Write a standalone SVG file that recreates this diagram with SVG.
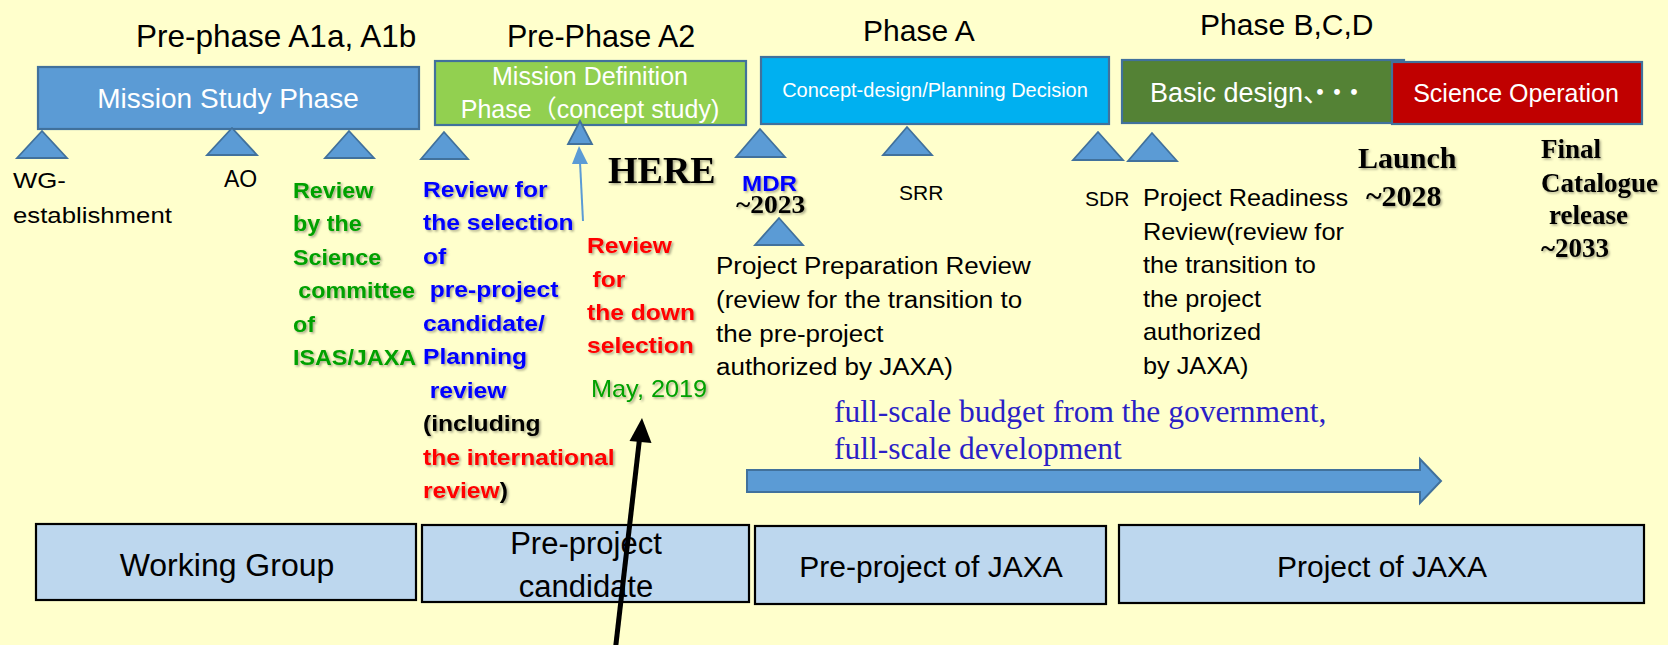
<svg xmlns="http://www.w3.org/2000/svg" width="1668" height="645" viewBox="0 0 1668 645">
  <defs>
    <filter id="shadow" x="-10%" y="-20%" width="130%" height="150%">
      <feDropShadow dx="1.5" dy="1.5" stdDeviation="1" flood-color="#000" flood-opacity="0.35"/>
    </filter>
    <style>
      text { font-family: "Liberation Sans", Arial, "Noto Sans CJK JP", sans-serif; }
      .serif { font-family: "Liberation Serif", "Times New Roman", serif; }
      .tri { fill: #5B9BD5; stroke: #41719C; stroke-width: 1.8; stroke-linejoin: miter; }
      .phase { stroke: #41719C; stroke-width: 2.2; }
      .org { fill: #BDD7EE; stroke: #000; stroke-width: 2.2; }
      .title { font-size: 31px; fill: #000; }
      .lbl { font-size: 23px; fill: #000; }
      .bold { font-weight: bold; font-size: 22px; }
      .sh { filter: url(#shadow); }
      .white { fill: #fff; }
      .green { fill: #00A000; }
      .blue { fill: #0000FF; }
      .red { fill: #FF0000; }
      .black { fill: #000; }
      .orgtxt { font-size: 31px; fill: #000; text-anchor: middle; }
    </style>
  </defs>

  <!-- background -->
  <rect x="0" y="0" width="1668" height="645" fill="#FFFFCC"/>

  <!-- phase bars -->
  <g id="pre-phase-a1">
    <text class="title" x="136" y="47" style="font-size:31.5px">Pre-phase A1a, A1b</text>
    <rect x="38" y="67" width="381" height="62" fill="#5B9BD5" class="phase"/>
    <text class="white" x="228" y="108" font-size="28" text-anchor="middle">Mission Study Phase</text>
  </g>

  <g id="pre-phase-a2">
    <text class="title" x="507" y="47" style="font-size:30.5px">Pre-Phase A2</text>
    <rect x="435" y="61" width="311" height="64" fill="#92D050" class="phase"/>
    <text class="white" x="590" y="85" font-size="25" text-anchor="middle">Mission Definition</text>
    <text class="white" x="590" y="118" font-size="25" text-anchor="middle">Phase（concept study)</text>
  </g>

  <g id="phase-a">
    <text class="title" x="863" y="41" style="font-size:30px">Phase A</text>
    <rect x="761" y="57" width="348" height="67" fill="#00B0F0" class="phase"/>
    <text class="white" x="935" y="97" font-size="20" text-anchor="middle">Concept-design/Planning Decision</text>
  </g>

  <g id="phase-bcd">
    <text class="title" x="1200" y="35" style="font-size:30px">Phase B,C,D</text>
    <rect x="1122" y="60" width="282" height="63" fill="#548235" class="phase"/>
    <text class="white" x="1150" y="102" font-size="27">Basic design<tspan style="letter-spacing:-10px">、・・・</tspan></text>
  </g>

  <g id="science-operation">
    <rect x="1392" y="62" width="250" height="62" fill="#C00000" class="phase"/>
    <text class="white" x="1516" y="102" font-size="25" text-anchor="middle">Science Operation</text>
  </g>

  <!-- milestones -->
  <g id="ms-wg">
    <polygon class="tri" points="42,131 17,158 67,158"/>
    <g transform="translate(13 0) scale(1.12 1)">
      <text class="lbl" x="0" y="188">WG-</text>
      <text class="lbl" x="0" y="223">establishment</text>
    </g>
  </g>

  <g id="ms-ao">
    <polygon class="tri" points="232,128 207,155 257,155"/>
    <text class="lbl" x="224" y="187">AO</text>
  </g>

  <g id="ms-science-committee">
    <polygon class="tri" points="349,131 325,158 374,158"/>
    <g class="sh" transform="translate(293 0) scale(1.06 1)">
      <text class="bold green" x="0" y="198">Review</text>
      <text class="bold green" x="0" y="231.5">by the</text>
      <text class="bold green" x="0" y="265">Science</text>
      <text class="bold green" x="5" y="298.5">committee</text>
      <text class="bold green" x="0" y="332">of</text>
      <text class="bold green" x="0" y="365.5">ISAS/JAXA</text>
    </g>
  </g>

  <g id="ms-pre-project-selection">
    <polygon class="tri" points="444,132 421,159 468,159"/>
    <g class="sh" transform="translate(423 0) scale(1.12 1)">
      <text class="bold blue" x="0" y="197">Review for</text>
      <text class="bold blue" x="0" y="230.5">the selection</text>
      <text class="bold blue" x="0" y="264">of</text>
      <text class="bold blue" x="6" y="297.5">pre-project</text>
      <text class="bold blue" x="0" y="331">candidate/</text>
      <text class="bold blue" x="0" y="364.5">Planning</text>
      <text class="bold blue" x="6" y="398">review</text>
      <text class="bold black" x="0" y="431.5">(including</text>
      <text class="bold red" x="0" y="465">the international</text>
      <text class="bold red" x="0" y="498.5">review<tspan class="black">)</tspan></text>
    </g>
  </g>

  <g id="ms-down-selection">
    <polygon class="tri" points="580,121 568,144 592,144"/>
    <g class="sh" transform="translate(587 0) scale(1.12 1)">
      <text class="bold red" x="0" y="253">Review</text>
      <text class="bold red" x="5" y="287">for</text>
      <text class="bold red" x="0" y="320">the down</text>
      <text class="bold red" x="0" y="353">selection</text>
    </g>
    <g class="sh" transform="translate(591 0) scale(1.1 1)">
      <text class="green" x="0" y="397" font-size="23">May, 2019</text>
    </g>
    <text class="serif sh" x="608" y="183" font-size="38" font-weight="bold" fill="#000">HERE</text>
  </g>

  <g id="ms-mdr">
    <polygon class="tri" points="760,129 736,157 785,157"/>
    <g class="sh" transform="translate(742 0) scale(1.1 1)">
      <text class="bold blue" x="0" y="191">MDR</text>
    </g>
    <g class="sh" transform="translate(736 0) scale(1.1 1)">
      <text class="serif" x="0" y="213" font-size="25" font-weight="bold" fill="#000">~2023</text>
    </g>
  </g>

  <g id="ms-ppr">
    <polygon class="tri" points="779,218 755,245 803,245"/>
    <g transform="translate(716 0) scale(1.13 1)">
      <text class="lbl" x="0" y="274">Project Preparation Review</text>
      <text class="lbl" x="0" y="308">(review for the transition to</text>
      <text class="lbl" x="0" y="342">the pre-project</text>
      <text class="lbl" x="0" y="375">authorized by JAXA)</text>
    </g>
  </g>

  <g id="ms-srr">
    <polygon class="tri" points="907,127 883,155 932,155"/>
    <text class="lbl" x="899" y="200" style="font-size:21px">SRR</text>
  </g>

  <g id="ms-sdr">
    <polygon class="tri" points="1098,132 1073,160 1123,160"/>
    <text class="lbl" x="1085" y="206" style="font-size:21px">SDR</text>
  </g>

  <g id="ms-prr">
    <polygon class="tri" points="1152,133 1128,161 1177,161"/>
    <g transform="translate(1143 0) scale(1.1 1)">
      <text class="lbl" x="0" y="206">Project Readiness</text>
      <text class="lbl" x="0" y="239.6">Review(review for</text>
      <text class="lbl" x="0" y="273.2">the transition to</text>
      <text class="lbl" x="0" y="306.8">the project</text>
      <text class="lbl" x="0" y="340.4">authorized</text>
      <text class="lbl" x="0" y="374">by JAXA)</text>
    </g>
  </g>

  <g id="ms-launch" class="sh">
    <text class="serif" x="1358" y="168" font-size="30" font-weight="bold" fill="#000">Launch</text>
    <text class="serif" x="1366" y="206" font-size="30" font-weight="bold" fill="#000">~2028</text>
  </g>

  <g id="ms-final-catalogue" class="sh">
    <text class="serif" x="1541" y="158" font-size="27" font-weight="bold" fill="#000">Final</text>
    <text class="serif" x="1541" y="192" font-size="27" font-weight="bold" fill="#000">Catalogue</text>
    <text class="serif" x="1549" y="224" font-size="27" font-weight="bold" fill="#000">release</text>
    <text class="serif" x="1541" y="257" font-size="27" font-weight="bold" fill="#000">~2033</text>
  </g>

  <!-- budget / development span -->
  <g id="full-scale-development">
    <text class="serif" x="834" y="422" font-size="31.5" fill="#2B1FC6">full-scale budget from the government,</text>
    <text class="serif" x="834" y="459" font-size="31.5" fill="#2B1FC6">full-scale development</text>
    <polygon points="747,470 1420,470 1420,459 1441,481 1420,503 1420,492 747,492" fill="#5B9BD5" stroke="#41719C" stroke-width="2"/>
  </g>

  <!-- organisation stages -->
  <g id="org-working-group">
    <rect class="org" x="36" y="524" width="380" height="76"/>
    <text class="orgtxt" x="227" y="576" style="font-size:32px">Working Group</text>
  </g>
  <g id="org-pre-project-candidate">
    <rect class="org" x="422" y="525" width="327" height="77"/>
    <text class="orgtxt" x="586" y="554">Pre-project</text>
    <text class="orgtxt" x="586" y="597">candidate</text>
  </g>
  <g id="org-pre-project">
    <rect class="org" x="755" y="526" width="351" height="78"/>
    <text class="orgtxt" x="931" y="577" style="font-size:30px">Pre-project of JAXA</text>
  </g>
  <g id="org-project">
    <rect class="org" x="1119" y="525" width="525" height="78"/>
    <text class="orgtxt" x="1382" y="577" style="font-size:30px">Project of JAXA</text>
  </g>

  <!-- connectors -->
  <g id="connectors">
    <line x1="583" y1="221" x2="580" y2="162" stroke="#5B9BD5" stroke-width="2"/>
    <polygon points="579,146 572,164 588,164" fill="#5B9BD5"/>
    <line x1="613" y1="670" x2="639.5" y2="439" stroke="#000" stroke-width="5"/>
    <polygon points="642,418 629.5,441 651.5,443" fill="#000"/>
  </g>
</svg>
